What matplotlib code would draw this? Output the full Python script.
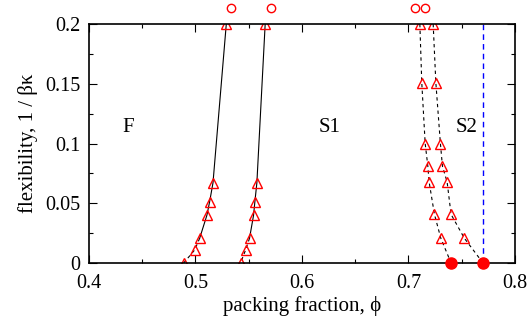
import matplotlib
matplotlib.use('Agg')
import matplotlib.pyplot as plt
from matplotlib.ticker import MultipleLocator

plt.rcParams['font.family'] = ['Liberation Serif', 'DejaVu Serif']
plt.rcParams['mathtext.fontset'] = 'stix'

# fluid / S1 boundaries (triangles)
flex_fs = [0.2, 0.067, 0.051, 0.040, 0.0207, 0.0109, 0.0]
phi_f = [0.529, 0.5165, 0.5133, 0.5108, 0.504, 0.4993, 0.489]
phi_s1 = [0.5655, 0.5577, 0.5558, 0.5546, 0.5508, 0.5471, 0.5424]

# S1 / S2 boundaries
flex_s = [0.2, 0.151, 0.100, 0.081, 0.0678, 0.0407, 0.0207]
phi_s1b = [0.7107, 0.7125, 0.7157, 0.7182, 0.7194, 0.7244, 0.7304]
phi_s2 = [0.7232, 0.7257, 0.730, 0.7319, 0.7363, 0.740, 0.7525]

# rigid limit (filled circles) and points above the axes (open circles)
phi_rigid = [0.74, 0.77]
phi_top = [0.5335, 0.5705, 0.706, 0.7157]
flex_top = [0.213, 0.213, 0.213, 0.213]

labels = ['F', 'S1', 'S2']
label_x = [0.4365, 0.626, 0.755]
label_y = [0.113, 0.113, 0.113]

red = '#ff0000'

fig = plt.figure(figsize=(5.29, 3.29), dpi=100)
ax = fig.add_axes([0.168, 0.2006, 0.8055, 0.7264])

# solid part of the F-S1 lines, dashed near the bottom
for phis in (phi_f, phi_s1):
    ax.plot(phis[:5], flex_fs[:5], color='black', lw=0.8)
    ax.plot(phis[4:], flex_fs[4:], color='black', lw=0.8, ls=(0, (3, 3)))
    ax.plot(phis, flex_fs, ls='none', marker='^', ms=7, mfc='none',
            mec=red, mew=1.0)

# dashed S1-S2 lines ending at the rigid values
for phis, end in ((phi_s1b, phi_rigid[0]), (phi_s2, phi_rigid[1])):
    ax.plot(phis + [end], flex_s + [0.0], color='black', lw=0.8,
            ls=(0, (3, 3)))
    ax.plot(phis, flex_s, ls='none', marker='^', ms=7, mfc='none',
            mec=red, mew=1.0)

ax.plot([phi_rigid[1], phi_rigid[1]], [0, 0.2], color='#0000ff', lw=1.0,
        ls=(0, (4, 3)))
ax.plot(phi_rigid, [0, 0], ls='none', marker='o', ms=8, color=red,
        clip_on=False, zorder=5)
ax.plot(phi_top, flex_top, ls='none', marker='o', ms=6, mfc='none',
        mec=red, mew=1.0, clip_on=False)

for t, x, y in zip(labels, label_x, label_y):
    ax.text(x, y, t, fontsize=15, ha='center', va='center')

ax.set_xlim(0.4, 0.8)
ax.set_ylim(0, 0.2)
ax.xaxis.set_major_locator(MultipleLocator(0.1))
ax.xaxis.set_minor_locator(MultipleLocator(0.05))
ax.yaxis.set_major_locator(MultipleLocator(0.05))
ax.yaxis.set_minor_locator(MultipleLocator(0.025))
ax.set_xticks([0.4, 0.5, 0.6, 0.7, 0.8])
ax.set_xticklabels(['0.4', '0.5', '0.6', '0.7', '0.8'])
ax.set_yticks([0, 0.05, 0.1, 0.15, 0.2])
ax.set_yticklabels(['0', '0.05', '0.1', '0.15', '0.2'])
ax.tick_params(which='both', direction='in', top=True, right=True,
               labelsize=14.5, width=0.8)
ax.tick_params(which='major', length=6)
ax.tick_params(axis='x', which='major', pad=8)
ax.tick_params(axis='y', which='major', pad=6)
ax.tick_params(which='minor', length=3)
for s in ax.spines.values():
    s.set_linewidth(1.2)

ax.set_xlabel('packing fraction, ϕ', fontsize=15, labelpad=2)
ax.set_ylabel('flexibility, 1 / βκ', fontsize=15, labelpad=5)

fig.savefig('out.png', dpi=100)
